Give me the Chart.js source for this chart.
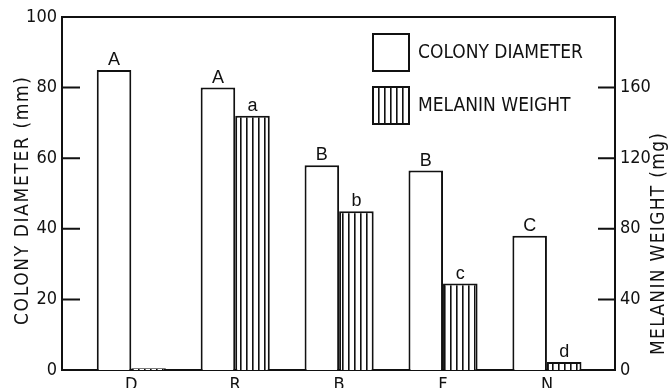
<!DOCTYPE html>
<html>
<head>
<meta charset="utf-8">
<script src="https://cdn.jsdelivr.net/npm/chart.js@4.4.0/dist/chart.umd.min.js"></script>
<style>
  html, body { margin: 0; padding: 0; background: #fff; overflow: hidden; }
  #wrap { width: 670px; height: 400px; }
</style>
</head>
<body>
<div id="wrap"><canvas id="chart" width="670" height="400"></canvas></div>
<script>
// ── data ─────────────────────────────────────────
const categories     = ['D', 'R', 'B', 'F', 'N'];
const colonyDiameter = [85, 80, 58, 56.5, 38];      // mm, left axis
const melaninWeight  = [1, 144, 90, 49, 4.5];       // mg, right axis
const colonyLetters  = ['A', 'A', 'B', 'B', 'C'];
const melaninLetters = ['', 'a', 'b', 'c', 'd'];
const leftTicks      = [0, 20, 40, 60, 80, 100];
const rightTicks     = [0, 40, 80, 120, 160];

const INK    = '#111';
const NARROW = '"Liberation Sans Narrow", "DejaVu Sans Condensed", "Liberation Sans", sans-serif';
const SANS   = '"Liberation Sans", Arial, sans-serif';

// vertical hatching for melanin bars
function stripes() {
  const p = document.createElement('canvas');
  p.width = 6; p.height = 6;
  const g = p.getContext('2d');
  g.fillStyle = '#fff';
  g.fillRect(0, 0, 6, 6);
  g.fillStyle = INK;
  g.fillRect(0, 0, 1.6, 6);
  return g.createPattern(p, 'repeat');
}

// frame top + inward tick marks
const frameTicks = {
  id: 'frameTicks',
  afterDatasetsDraw(chart) {
    const { ctx, chartArea: a, scales } = chart;
    ctx.save();
    ctx.strokeStyle = INK;
    ctx.lineWidth = 2;
    ctx.beginPath();
    ctx.moveTo(a.left - 1, a.top);
    ctx.lineTo(a.right + 1, a.top);
    leftTicks.forEach(v => {
      const y = scales.y.getPixelForValue(v);
      ctx.moveTo(a.left, y); ctx.lineTo(a.left + 18, y);
    });
    rightTicks.forEach(v => {
      const y = scales.y1.getPixelForValue(v);
      ctx.moveTo(a.right, y); ctx.lineTo(a.right - 17, y);
    });
    ctx.stroke();
    ctx.restore();
  },
};

// significance letters above bars
const barLetters = {
  id: 'barLetters',
  afterDatasetsDraw(chart) {
    const ctx = chart.ctx;
    ctx.save();
    ctx.fillStyle = INK;
    ctx.font = '18px ' + SANS;
    ctx.textAlign = 'center';
    ctx.textBaseline = 'alphabetic';
    chart.data.datasets.forEach((ds, i) => {
      chart.getDatasetMeta(i).data.forEach((bar, j) => {
        const t = ds.letters[j];
        if (t) ctx.fillText(t, bar.x, bar.y - 5);
      });
    });
    ctx.restore();
  },
};

// rotated text stretched to a given length with letter spacing
function spacedVertical(ctx, text, x, y, len) {
  ctx.save();
  ctx.letterSpacing = '0px';
  const w = ctx.measureText(text).width;
  const sp = Math.max(0, (len - w) / (text.length - 1));
  ctx.letterSpacing = sp.toFixed(2) + 'px';
  ctx.translate(x, y);
  ctx.rotate(-Math.PI / 2);
  ctx.textAlign = 'center';
  ctx.fillText(text, sp / 2, 0);
  ctx.restore();
}

// legend box inside plot + rotated axis titles
const extras = {
  id: 'extras',
  afterDraw(chart) {
    const ctx = chart.ctx;
    ctx.save();
    ctx.strokeStyle = INK;
    ctx.lineWidth = 2;
    ctx.font = '19px ' + NARROW;
    ctx.textBaseline = 'middle';
    ctx.textAlign = 'left';
    chart.data.datasets.forEach((ds, i) => {
      const x = 373, y = 34 + i * 53, w = 36, h = 37;
      ctx.fillStyle = ds.backgroundColor;
      ctx.fillRect(x, y, w, h);
      ctx.strokeRect(x, y, w, h);
      ctx.fillStyle = INK;
      ctx.fillText(ds.label, 418, y + h / 2 + 1);
    });

    ctx.fillStyle = INK;
    spacedVertical(ctx, 'COLONY DIAMETER (mm)', 23, 201, 248);
    spacedVertical(ctx, 'MELANIN WEIGHT (mg)', 659, 244, 222);
    ctx.restore();
  },
};

const tickFont = { family: NARROW, size: 18 };

const ctx = document.getElementById('chart').getContext('2d');
new Chart(ctx, {
  type: 'bar',
  data: {
    datasets: [
      {
        label: 'COLONY DIAMETER',
        data: categories.map((c, i) => ({ x: i, y: colonyDiameter[i] })),
        letters: colonyLetters,
        yAxisID: 'y',
        backgroundColor: '#fff',
        borderColor: INK,
        borderWidth: 2,
      },
      {
        label: 'MELANIN WEIGHT',
        data: categories.map((c, i) => ({ x: i, y: melaninWeight[i] })),
        letters: melaninLetters,
        yAxisID: 'y1',
        backgroundColor: stripes(),
        borderColor: INK,
        borderWidth: 2,
      },
    ],
  },
  options: {
    responsive: false,
    animation: false,
    categoryPercentage: 0.665,
    barPercentage: 1,
    layout: { padding: { top: 17, left: 0, right: 0, bottom: 0 } },
    plugins: { legend: { display: false }, tooltip: { enabled: false } },
    scales: {
      x: {
        type: 'linear',
        offset: false,
        min: -0.667, max: 4.655,
        grid: { display: false, drawTicks: false },
        border: { display: true, color: INK, width: 2 },
        ticks: {
          stepSize: 1, includeBounds: false, autoSkip: false, maxRotation: 0,
          padding: 5, color: INK, font: tickFont,
          callback: v => categories[v] ?? '',
        },
        afterFit: s => { s.height = 30; },
      },
      y: {
        position: 'left',
        min: 0, max: 100,
        grid: { display: false, drawTicks: false },
        border: { display: true, color: INK, width: 2 },
        ticks: {
          stepSize: 20, padding: 5, color: INK, font: tickFont,
          callback: v => leftTicks.includes(v) ? v : '',
        },
        afterFit: s => { s.width = 62; },
      },
      y1: {
        position: 'right',
        min: 0, max: 200,
        grid: { display: false, drawTicks: false },
        border: { display: true, color: INK, width: 2 },
        ticks: {
          stepSize: 40, padding: 5, color: INK, font: tickFont,
          callback: v => rightTicks.includes(v) ? v : '',
        },
        afterFit: s => { s.width = 55; },
      },
    },
  },
  plugins: [frameTicks, barLetters, extras],
});
</script>
</body>
</html>
